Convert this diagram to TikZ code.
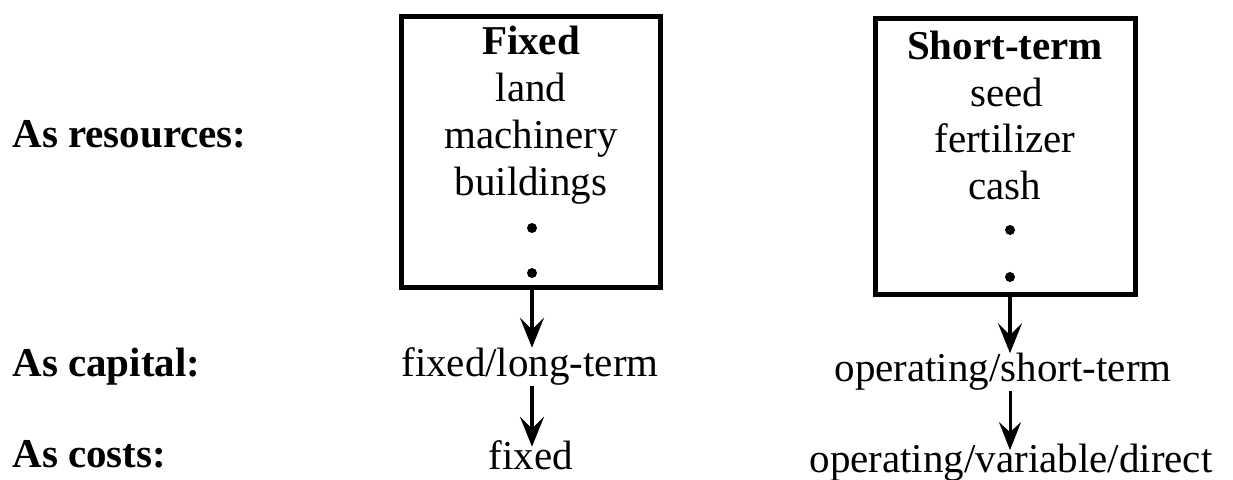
\documentclass[tikz,border=0pt]{standalone}
\usepackage{fontspec}
\setmainfont{Liberation Serif}
\usetikzlibrary{arrows.meta}
\tikzset{
  txt/.style={inner sep=0pt, anchor=base, font=\fontsize{20.5}{22}\selectfont},
  lbl/.style={txt, anchor=base west, font=\fontsize{20.5}{22}\selectfont\bfseries},
  hdr/.style={txt, font=\fontsize{20.5}{22}\selectfont\bfseries},
  stockbox/.style={draw, line width=2.5pt, inner sep=0pt},
  dotmark/.style={circle, fill, inner sep=0pt, minimum size=5pt},
  flow/.style={-{Stealth[length=15pt, width=12pt, inset=6pt]}, line width=2.4pt},
  thinflow/.style={-{Stealth[length=14pt, width=11pt, inset=5pt]}, line width=1.5pt}
}
\begin{document}
\begin{tikzpicture}[x=0.5pt, y=-0.5pt]
\useasboundingbox (0,0) rectangle (1233,480);

% row labels
\node[lbl] (rowres) at (12,148) {As resources:};
\node[lbl] (rowcap) at (12,377) {As capital:};
\node[lbl] (rowcost) at (12,468) {As costs:};

% fixed resources
\node[stockbox, minimum width=129.5pt, minimum height=135.5pt] (lbox) at (531,152.5) {};
\node[hdr] (lh) at (531,55) {Fixed};
\node[txt] (l1) at (531,102) {land};
\node[txt] (l2) at (531,149) {machinery};
\node[txt] (l3) at (531,196) {buildings};
\node[dotmark] (ld1) at (532,228) {};
\node[dotmark] (ld2) at (532,273) {};

% short-term resources
\node[stockbox, minimum width=129.75pt, minimum height=138pt] (rbox) at (1005.25,157) {};
\node[hdr] (rh) at (1005,60) {Short-term};
\node[txt] (r1) at (1007,107) {seed};
\node[txt] (r2) at (1005,153) {fertilizer};
\node[txt] (r3) at (1005,200) {cash};
\node[dotmark] (rd1) at (1010,230) {};
\node[dotmark] (rd2) at (1010,277) {};

% capital and cost classes
\node[txt] (lcap) at (530,377) {fixed/long-term};
\node[txt] (lcost) at (531,470) {fixed};
\node[txt] (rcap) at (1003,382) {operating/short-term};
\node[txt] (rcost) at (1011,473) {operating/variable/direct};

% connectors
\draw[flow] (lbox.south -| ld2) -- (ld2 |- lcap.north);
\draw[flow, shorten >=-3pt] (ld2 |- lcap.south) -- (ld2 |- lcost.north);
\draw[flow] (rbox.south -| rd2) -- (rd2 |- rcap.north);
\draw[thinflow, shorten >=-3pt] (rd2 |- rcap.south) -- (rd2 |- rcost.north);
\end{tikzpicture}
\end{document}
